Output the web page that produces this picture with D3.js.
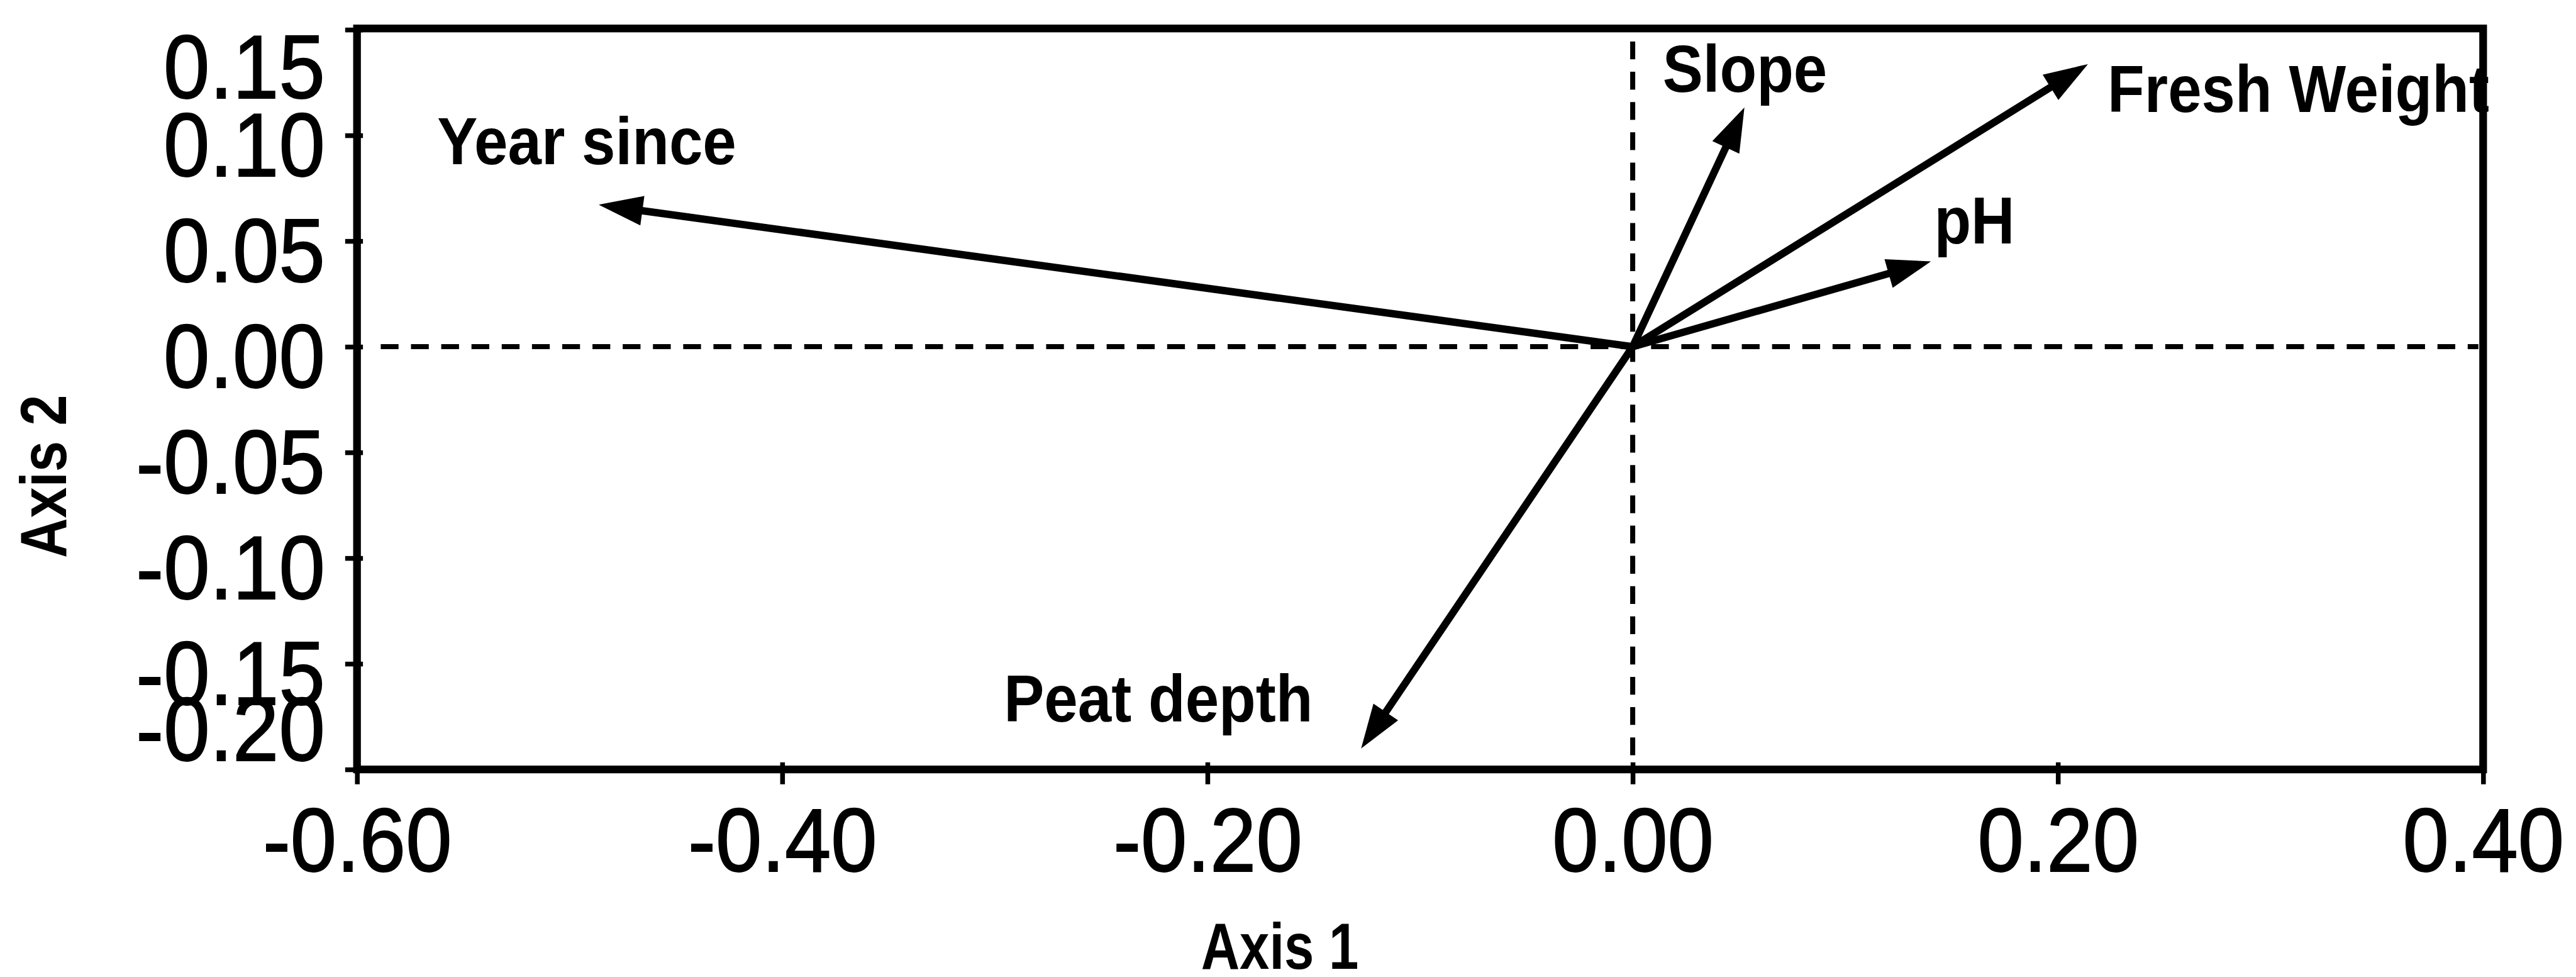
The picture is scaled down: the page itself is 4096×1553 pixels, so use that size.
<!DOCTYPE html>
<html>
<head>
<meta charset="utf-8">
<script src="https://cdn.jsdelivr.net/npm/d3@7"></script>
<style>
  html, body { margin: 0; padding: 0; background: #fff; }
  svg { display: block; }
  text { font-family: "Liberation Sans", Arial, Helvetica, sans-serif; fill: #000; }
</style>
</head>
<body>
<svg id="chart" width="4096" height="1553"></svg>
<script>
// Environmental variable vectors on the first two ordination axes
const variables   = ["Year since", "Slope", "Fresh Weight", "pH", "Peat depth"];
const axis1Scores = [-0.485, 0.052, 0.213, 0.139, -0.127];
const axis2Scores = [ 0.067, 0.112, 0.133, 0.040, -0.189];

// Tick values for both axes
const xTicks = [-0.60, -0.40, -0.20, 0.00, 0.20, 0.40];
const yTicks = [0.15, 0.10, 0.05, 0.00, -0.05, -0.10, -0.15, -0.20];

// Axis titles
const xTitle = "Axis 1";
const yTitle = "Axis 2";

// Layout is authored at a 4341-px design width and drawn at 0.943 of that
const S = 0.943;
const u = v => v * S;

const svg = d3.select("#chart");

const x = d3.scaleLinear().domain([-0.6, 0.4]).range([u(602), u(4187)]);
const y = d3.scaleLinear().domain([-0.2, 0.15]).range([u(1297), u(50)]);

const fmt = d => d.toFixed(2);

// Condense glyphs horizontally by a factor, keeping the text as real text
function squeeze(sel, f) {
  sel.each(function () {
    const len = this.getComputedTextLength();
    d3.select(this).attr("textLength", len * f).attr("lengthAdjust", "spacingAndGlyphs");
  });
}

// Dashed reference lines through the origin
svg.append("line")
  .attr("x1", x(-0.6) + u(40)).attr("x2", x(0.4) - u(8))
  .attr("y1", y(0)).attr("y2", y(0))
  .attr("stroke", "#000").attr("stroke-width", u(8.5))
  .attr("stroke-dasharray", `${u(30)},${u(21)}`);
svg.append("line")
  .attr("x1", x(0)).attr("x2", x(0))
  .attr("y1", y(0.15) + u(20)).attr("y2", y(-0.2) - u(4))
  .attr("stroke", "#000").attr("stroke-width", u(8.5))
  .attr("stroke-dasharray", `${u(30)},${u(21)}`);

// Vectors with filled arrowheads
const data = variables.map((name, i) => ({ name, a1: axis1Scores[i], a2: axis2Scores[i] }));
const headLen = u(68), headHalf = u(23);
const ox = x(0), oy = y(0);

const vec = svg.append("g").attr("class", "vectors");
data.forEach(d => {
  const tx = x(d.a1), ty = y(d.a2);
  const dx = tx - ox, dy = ty - oy;
  const len = Math.hypot(dx, dy);
  const ux = dx / len, uy = dy / len;
  const bx = tx - ux * headLen, by = ty - uy * headLen;
  const nx = -uy, ny = ux;
  vec.append("line")
    .attr("x1", ox).attr("y1", oy)
    .attr("x2", bx + ux * u(6)).attr("y2", by + uy * u(6))
    .attr("stroke", "#000").attr("stroke-width", u(12.5))
    .attr("stroke-linecap", "round");
  vec.append("path")
    .attr("d", `M${tx},${ty}L${bx + nx * headHalf},${by + ny * headHalf}L${bx - nx * headHalf},${by - ny * headHalf}Z`)
    .attr("fill", "#000").attr("stroke", "#000").attr("stroke-width", u(3))
    .attr("stroke-linejoin", "miter");
});

// Vector labels, offset from each arrow tip
const labelOffset = {
  "Year since":   [-277, -69],
  "Slope":        [-136, -31],
  "Fresh Weight": [37, 78],
  "pH":           [10, -31],
  "Peat depth":   [-605, -41]
};
const labels = svg.append("g").attr("class", "labels")
  .selectAll("text").data(data).join("text")
  .attr("x", d => x(d.a1) + u(labelOffset[d.name][0]))
  .attr("y", d => y(d.a2) + u(labelOffset[d.name][1]))
  .attr("font-size", u(112))
  .attr("font-weight", "bold")
  .text(d => d.name);
squeeze(labels, 0.91);

// Bottom axis
const gx = svg.append("g")
  .attr("transform", `translate(0,${y(-0.2)})`)
  .call(d3.axisBottom(x).tickValues(xTicks).tickFormat(fmt).tickSize(0).tickPadding(0));
gx.select(".domain").remove();
gx.selectAll(".tick line")
  .attr("y1", -u(12)).attr("y2", u(25))
  .attr("stroke", "#000").attr("stroke-width", u(8));
gx.selectAll(".tick text")
  .attr("y", u(172)).attr("dy", null)
  .attr("font-size", u(152)).attr("font-family", null).attr("fill", "#000")
  .attr("stroke", "#000").attr("stroke-width", u(2));
squeeze(gx.selectAll(".tick text"), 0.92);

// Left axis; the two end labels are pulled inside the frame
const gy = svg.append("g")
  .attr("transform", `translate(${x(-0.6)},0)`)
  .call(d3.axisLeft(y).tickValues(yTicks).tickFormat(fmt).tickSize(0).tickPadding(0));
gy.select(".domain").remove();
gy.selectAll(".tick line")
  .attr("x1", -u(20)).attr("x2", u(10))
  .attr("stroke", "#000").attr("stroke-width", u(8));
gy.selectAll(".tick text")
  .attr("x", -u(54)).attr("dy", null)
  .attr("y", d => d === 0.15 ? u(115) : d === -0.2 ? -u(15) : u(68))
  .attr("font-size", u(152)).attr("font-family", null).attr("fill", "#000")
  .attr("stroke", "#000").attr("stroke-width", u(2));
squeeze(gy.selectAll(".tick text"), 0.92);
gx.attr("font-family", null).attr("font-size", null);
gy.attr("font-family", null).attr("font-size", null);

// Plot frame
svg.append("rect")
  .attr("x", x(-0.6)).attr("y", y(0.15) - u(2))
  .attr("width", x(0.4) - x(-0.6))
  .attr("height", y(-0.2) - y(0.15) + u(2))
  .attr("fill", "none").attr("stroke", "#000").attr("stroke-width", u(13));

// Axis titles
const tx1 = svg.append("text")
  .attr("x", u(2158)).attr("y", u(1633))
  .attr("text-anchor", "middle")
  .attr("font-size", u(110)).attr("font-weight", "bold")
  .text(xTitle);
squeeze(tx1, 0.82);

const ty1 = svg.append("text")
  .attr("transform", `translate(${u(111)},${u(803)}) rotate(-90)`)
  .attr("text-anchor", "middle")
  .attr("font-size", u(110)).attr("font-weight", "bold")
  .text(yTitle);
squeeze(ty1, 0.85);
</script>
</body>
</html>
